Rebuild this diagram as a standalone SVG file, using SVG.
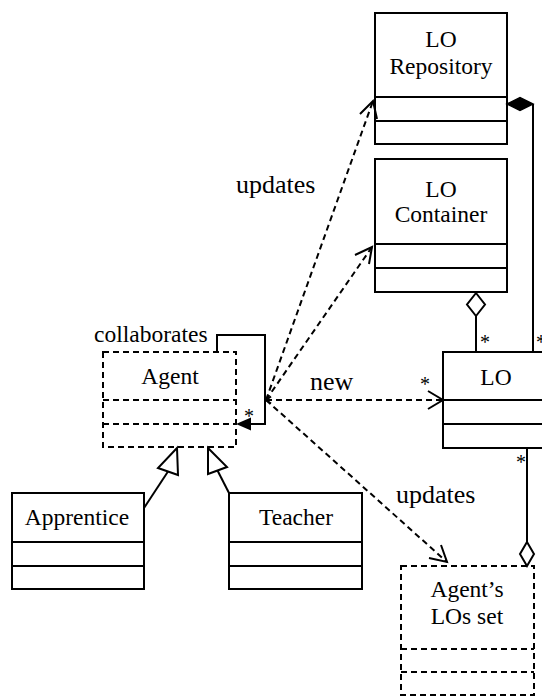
<svg xmlns="http://www.w3.org/2000/svg" width="542" height="697" viewBox="0 0 542 697">
  <style>
    .box { fill: #fff; stroke: #000; stroke-width: 2; }
    .dbox { fill: #fff; stroke: #000; stroke-width: 2; stroke-dasharray: 6 4; }
    .sep { stroke: #000; stroke-width: 2; }
    .dsep { stroke: #000; stroke-width: 2; stroke-dasharray: 6 4; }
    .name { font-family: "Liberation Serif", "Times New Roman", serif; font-size: 23.5px; text-anchor: middle; fill: #000; }
    .lbl { font-family: "Liberation Serif", "Times New Roman", serif; font-size: 26px; fill: #000; }
    .lbl2 { font-family: "Liberation Serif", "Times New Roman", serif; font-size: 23.5px; fill: #000; }
    .mult { font-family: "Liberation Serif", "Times New Roman", serif; font-size: 20px; fill: #000; }
    .solid { fill: none; stroke: #000; stroke-width: 2; }
    .dash { fill: none; stroke: #000; stroke-width: 2; stroke-dasharray: 6 4; }
    .head { fill: none; stroke: #000; stroke-width: 2; }
  </style>

  <!-- classes -->
  <g id="lo-repository">
    <rect class="box" x="375" y="13" width="132" height="131"/>
    <line class="sep" x1="375" y1="97" x2="507" y2="97"/>
    <line class="sep" x1="375" y1="121" x2="507" y2="121"/>
    <text class="name" x="441" y="47">LO</text>
    <text class="name" x="441" y="74">Repository</text>
  </g>

  <g id="lo-container">
    <rect class="box" x="375" y="159" width="132" height="133"/>
    <line class="sep" x1="375" y1="244" x2="507" y2="244"/>
    <line class="sep" x1="375" y1="268" x2="507" y2="268"/>
    <text class="name" x="441" y="197">LO</text>
    <text class="name" x="441" y="222">Container</text>
  </g>

  <g id="lo">
    <rect class="box" x="443" y="352" width="120" height="96"/>
    <line class="sep" x1="443" y1="400" x2="563" y2="400"/>
    <line class="sep" x1="443" y1="424" x2="563" y2="424"/>
    <text class="name" x="496" y="385">LO</text>
  </g>

  <g id="agent">
    <rect class="dbox" x="103" y="352" width="133" height="95"/>
    <line class="dsep" x1="103" y1="400" x2="236" y2="400"/>
    <line class="dsep" x1="103" y1="424" x2="236" y2="424"/>
    <text class="name" x="170" y="384">Agent</text>
  </g>

  <g id="apprentice">
    <rect class="box" x="12" y="493" width="132" height="96"/>
    <line class="sep" x1="12" y1="542" x2="144" y2="542"/>
    <line class="sep" x1="12" y1="566" x2="144" y2="566"/>
    <text class="name" x="77" y="525">Apprentice</text>
  </g>

  <g id="teacher">
    <rect class="box" x="229" y="493" width="133" height="96"/>
    <line class="sep" x1="229" y1="542" x2="362" y2="542"/>
    <line class="sep" x1="229" y1="566" x2="362" y2="566"/>
    <text class="name" x="296" y="525">Teacher</text>
  </g>

  <g id="agents-los-set">
    <rect class="dbox" x="401" y="566" width="133" height="129"/>
    <line class="dsep" x1="401" y1="649" x2="534" y2="649"/>
    <line class="dsep" x1="401" y1="672" x2="534" y2="672"/>
    <text class="name" x="467" y="597">Agent’s</text>
    <text class="name" x="467" y="624">LOs set</text>
  </g>

  <!-- connectors -->
  <g id="connectors">
    <!-- composition: repository owns LOs -->
    <line class="solid" x1="533" y1="104" x2="533" y2="352"/>
    <polygon points="507,104 520,97.5 533,104 520,110.5" fill="#000" stroke="#000" stroke-width="1.5"/>

    <!-- aggregation: container holds LOs -->
    <line class="solid" x1="476" y1="316" x2="476" y2="352"/>
    <polygon points="476,293 485,304.5 476,316 467,304.5" fill="#fff" stroke="#000" stroke-width="2"/>

    <!-- aggregation: agent's set holds LOs -->
    <line class="solid" x1="527" y1="448" x2="527" y2="542"/>
    <polygon points="527,542 534,554 527,566 520,554" fill="#fff" stroke="#000" stroke-width="2"/>

    <!-- self association: collaborates -->
    <polyline class="solid" points="217,352 217,335 265,335 265,424 251,424"/>
    <polygon points="236,424 251,417.5 251,430.5" fill="#000"/>

    <!-- dependencies from Agent -->
    <line class="dash" x1="266" y1="400" x2="373" y2="101"/>
    <polyline class="head" points="360,114 373,101 377,119"/>
    <line class="dash" x1="266" y1="400" x2="372" y2="247"/>
    <polyline class="head" points="355,255 372,247 369,264"/>
    <line class="dash" x1="266" y1="400" x2="443" y2="400"/>
    <polyline class="head" points="428,391 443,400 428,409"/>
    <line class="dash" x1="266" y1="400" x2="447" y2="562"/>
    <polyline class="head" points="429,558 447,562 441,545"/>
    <polyline class="head" points="271,396.5 266,400 271,403.5" stroke-width="1.5"/>

    <!-- generalization -->
    <line class="solid" x1="144" y1="508" x2="168" y2="471.5"/>
    <polygon points="177,448 158,468 178,475" fill="#fff" stroke="#000" stroke-width="2"/>
    <line class="solid" x1="229" y1="493" x2="217.5" y2="470.5"/>
    <polygon points="208,448 208,474 227,467" fill="#fff" stroke="#000" stroke-width="2"/>

    <!-- labels -->
    <text class="lbl" x="236" y="193">updates</text>
    <text class="lbl" x="396" y="503">updates</text>
    <text class="lbl" x="310" y="390">new</text>
    <text class="lbl2" x="94" y="342">collaborates</text>

    <!-- multiplicities -->
    <text class="mult" x="420" y="391">*</text>
    <text class="mult" x="480" y="349">*</text>
    <text class="mult" x="536" y="349">*</text>
    <text class="mult" x="516" y="469">*</text>
    <text class="mult" x="244" y="423">*</text>
  </g>
</svg>
